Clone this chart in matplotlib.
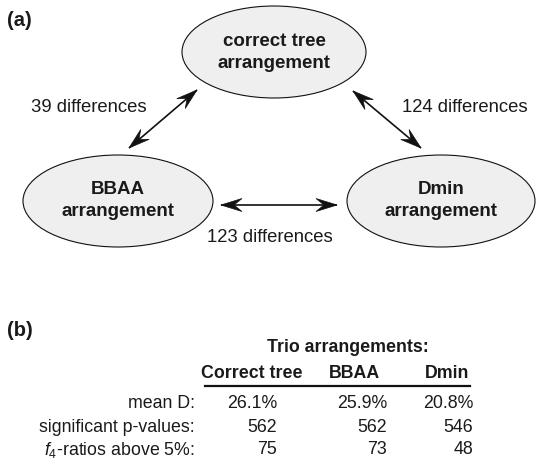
import numpy as np
import matplotlib.pyplot as plt
from matplotlib.patches import Ellipse, Polygon

plt.rcParams['font.family'] = ['Liberation Sans', 'DejaVu Sans']
plt.rcParams['mathtext.fontset'] = 'custom'
plt.rcParams['mathtext.rm'] = 'Liberation Sans'
plt.rcParams['mathtext.it'] = 'Liberation Sans:italic'

# Data
nodes = ["correct tree\narrangement", "BBAA\narrangement", "Dmin\narrangement"]
pair_diffs = [39, 124, 123]  # correct-BBAA, correct-Dmin, BBAA-Dmin

col_names = ["Correct tree", "BBAA", "Dmin"]
row_names = ["mean D:", "significant p-values:", r"$f_4$-ratios above 5%:"]
mean_d = ["26.1%", "25.9%", "20.8%"]
sig_p = [562, 562, 546]
f4_ratios = [75, 73, 48]

# Layout (pixel coords, y down)
node_xy = [(274, 52), (118, 201), (441, 201)]
node_w = [184, 190, 188]
node_h = 92

fig = plt.figure(figsize=(5.36, 4.66), dpi=100)
ax = fig.add_axes([0, 0, 1, 1])
ax.set_xlim(0, 536)
ax.set_ylim(466, 0)
ax.axis('off')

txt = '#1a1a1a'
ink = '#111111'


def barb(tip, tail, length=21, half=6.5, notch=8):
    # barbed arrowhead pointing at tip
    tip = np.array(tip, float)
    d = tip - np.array(tail, float)
    d /= np.hypot(*d)
    n = np.array([-d[1], d[0]])
    base = tip - d * length
    pts = [tip, base + n * half, tip - d * (length - notch), base - n * half]
    ax.add_patch(Polygon(pts, closed=True, facecolor=ink, edgecolor=ink, lw=0.5))


# panel (a)
ax.text(7, 21, "(a)", fontsize=14.5, fontweight='bold', va='center', ha='left', color=txt)

for (x, y), w, name in zip(node_xy, node_w, nodes):
    ax.add_patch(Ellipse((x, y), w, node_h, facecolor='#efefef', edgecolor=ink, lw=0.8))
    top, bottom = name.split("\n")
    ax.text(x, y - 11, top, fontsize=13.5, fontweight='bold', ha='center', va='center', color=txt)
    ax.text(x, y + 11, bottom, fontsize=13.5, fontweight='bold', ha='center', va='center', color=txt)

arrows = [((129, 148), (197, 90)), ((353, 91), (421, 148)), ((221, 205), (337, 205))]
for p0, p1 in arrows:
    ax.plot([p0[0], p1[0]], [p0[1], p1[1]], color=ink, lw=1.2, solid_capstyle='butt')
    barb(p0, p1)
    barb(p1, p0)

ax.text(89, 107, f"{pair_diffs[0]} differences", fontsize=13.3, ha='center', va='center', color=txt)
ax.text(465, 107, f"{pair_diffs[1]} differences", fontsize=13.3, ha='center', va='center', color=txt)
ax.text(270, 238, f"{pair_diffs[2]} differences", fontsize=13.3, ha='center', va='center', color=txt)

# panel (b)
ax.text(7, 331, "(b)", fontsize=14.5, fontweight='bold', va='center', ha='left', color=txt)
ax.text(348, 348, "Trio arrangements:", fontsize=12.8, fontweight='bold', ha='center', va='center', color=txt)

col_right = [277, 387, 473]
head_x = [252, 355, 447]
for hx, name in zip(head_x, col_names):
    ax.text(hx, 373, name, fontsize=12.8, fontweight='bold', ha='center', va='center', color=txt)
ax.plot([205, 470], [386, 386], color=ink, lw=1.6)

row_y = [404, 427, 450]
rows = [mean_d, [str(v) for v in sig_p], [str(v) for v in f4_ratios]]
for y, label, vals in zip(row_y, row_names, rows):
    ax.text(195, y, label, fontsize=12.8, ha='right', va='center', color=txt)
    for xr, v in zip(col_right, vals):
        ax.text(xr, y, v, fontsize=12.8, ha='right', va='center', color=txt)

plt.savefig("out.png", dpi=100)
